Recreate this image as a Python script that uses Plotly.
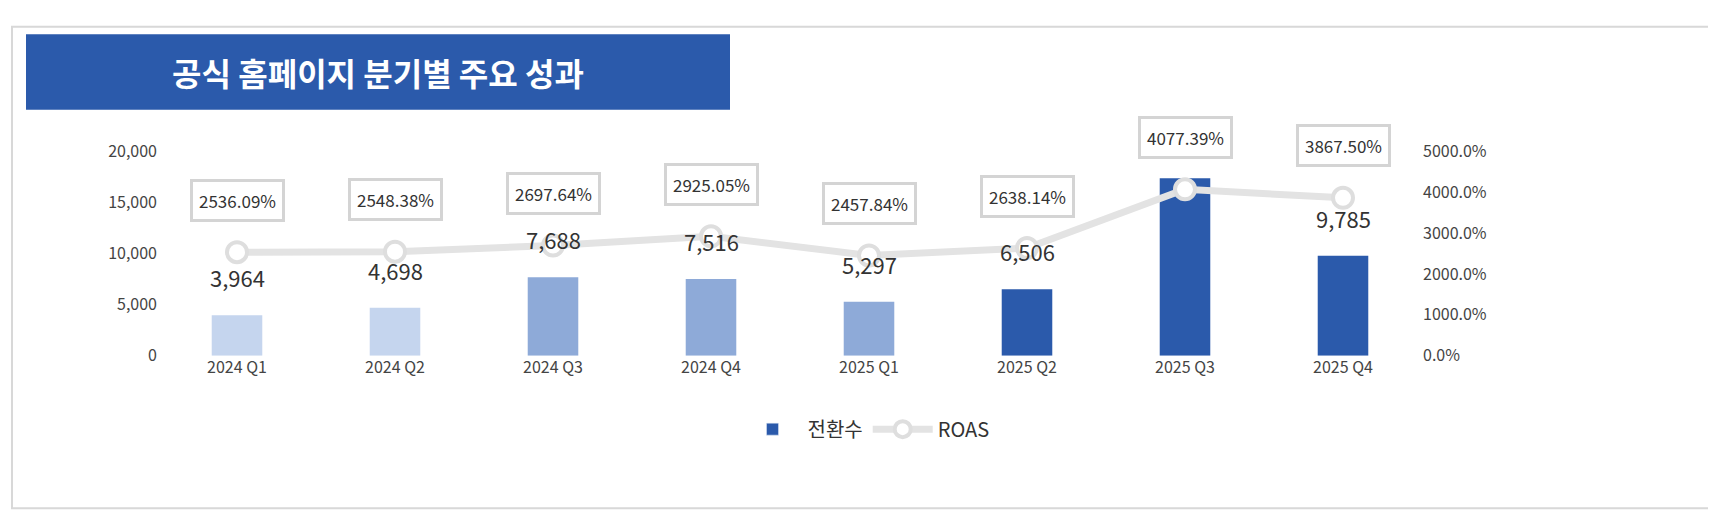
import plotly.graph_objects as go

quarters = ["2024 Q1","2024 Q2","2024 Q3","2024 Q4","2025 Q1","2025 Q2","2025 Q3","2025 Q4"]
conversions = [3964, 4698, 7688, 7516, 5297, 6506, 17400, 9785]
conv_labels = ["3,964","4,698","7,688","7,516","5,297","6,506","","9,785"]
roas = [2536.09, 2548.38, 2697.64, 2925.05, 2457.84, 2638.14, 4077.39, 3867.50]
bar_colors = ["#c5d5ee","#c5d5ee","#8eaad8","#8eaad8","#8eaad8","#2b5aab","#2b5aab","#2b5aab"]

W, H = 1716, 517
FONT = "Noto Sans CJK KR"
fig = go.Figure()
fig.add_bar(x=quarters, y=conversions, marker_color=bar_colors, width=0.32, name="전환수",
            marker_line_width=0, showlegend=False)
fig.add_bar(x=[quarters[0]], y=[None], marker_color="#2b5aab", name="전환수", showlegend=True)
fig.add_scatter(x=quarters, y=roas, yaxis="y2", mode="lines+markers", name="ROAS",
                line=dict(color="#e3e3e3", width=7),
                marker=dict(size=20, color="white", line=dict(color="#dedede", width=4)))

ann = []
for q, v, t in zip(quarters, conversions, conv_labels):
    if t:
        ann.append(dict(x=q, y=v, text=t, showarrow=False, yshift=38,
                        font=dict(size=22, color="#333", family=FONT)))
for q, r in zip(quarters, roas):
    ann.append(dict(x=q, y=r, yref="y2", text=f"{r:.2f}%", showarrow=False, yshift=52,
                    font=dict(size=17, color="#333", family=FONT), bgcolor="white",
                    bordercolor="#d4d4d4", borderwidth=3, borderpad=6))
ann.append(dict(xref="paper", yref="paper", x=370/W, y=1-53/H, xanchor="center", yanchor="middle",
                width=690, height=60, align="center",
                text="<b>공식 홈페이지 분기별 주요 성과</b>",
                showarrow=False, font=dict(size=32, color="white", family=FONT)))

fig.update_layout(
    width=W, height=H, margin=dict(l=0, r=0, t=0, b=0),
    paper_bgcolor="white", plot_bgcolor="white",
    font=dict(family=FONT, color="#444", size=16),
    barmode="overlay",
    xaxis=dict(domain=[150/W, 1414/W], range=[-0.5, 7.5], showgrid=False, ticks="",
               tickfont=dict(size=16), showline=False, zeroline=False),
    yaxis=dict(domain=[1-351/H, 1-137/H], range=[0, 20000], tickvals=[0,5000,10000,15000,20000],
               tickformat=",", showgrid=False, zeroline=False, tickfont=dict(size=16)),
    yaxis2=dict(overlaying="y", side="right", range=[0, 5000], tickvals=[0,1000,2000,3000,4000,5000],
                ticktext=["0.0%","1000.0%","2000.0%","3000.0%","4000.0%","5000.0%"],
                showgrid=False, zeroline=False, tickfont=dict(size=16)),
    legend=dict(orientation="h", x=0.5, xanchor="center", y=1-428/H, yanchor="middle",
                font=dict(size=20, color="#333"), itemwidth=60),
    annotations=ann,
    shapes=[
        dict(type="rect", xref="paper", yref="paper", x0=4/W, x1=1-6/W, y0=6/H, y1=1-6/H,
             line=dict(color="#d8d8d8", width=2), layer="below"),
        dict(type="rect", xref="paper", yref="paper", x0=18/W, x1=722/W, y0=1-93/H, y1=1-14/H,
             fillcolor="#2b5aab", line=dict(width=0), layer="below"),
    ],
)
fig.write_html("out.html")
